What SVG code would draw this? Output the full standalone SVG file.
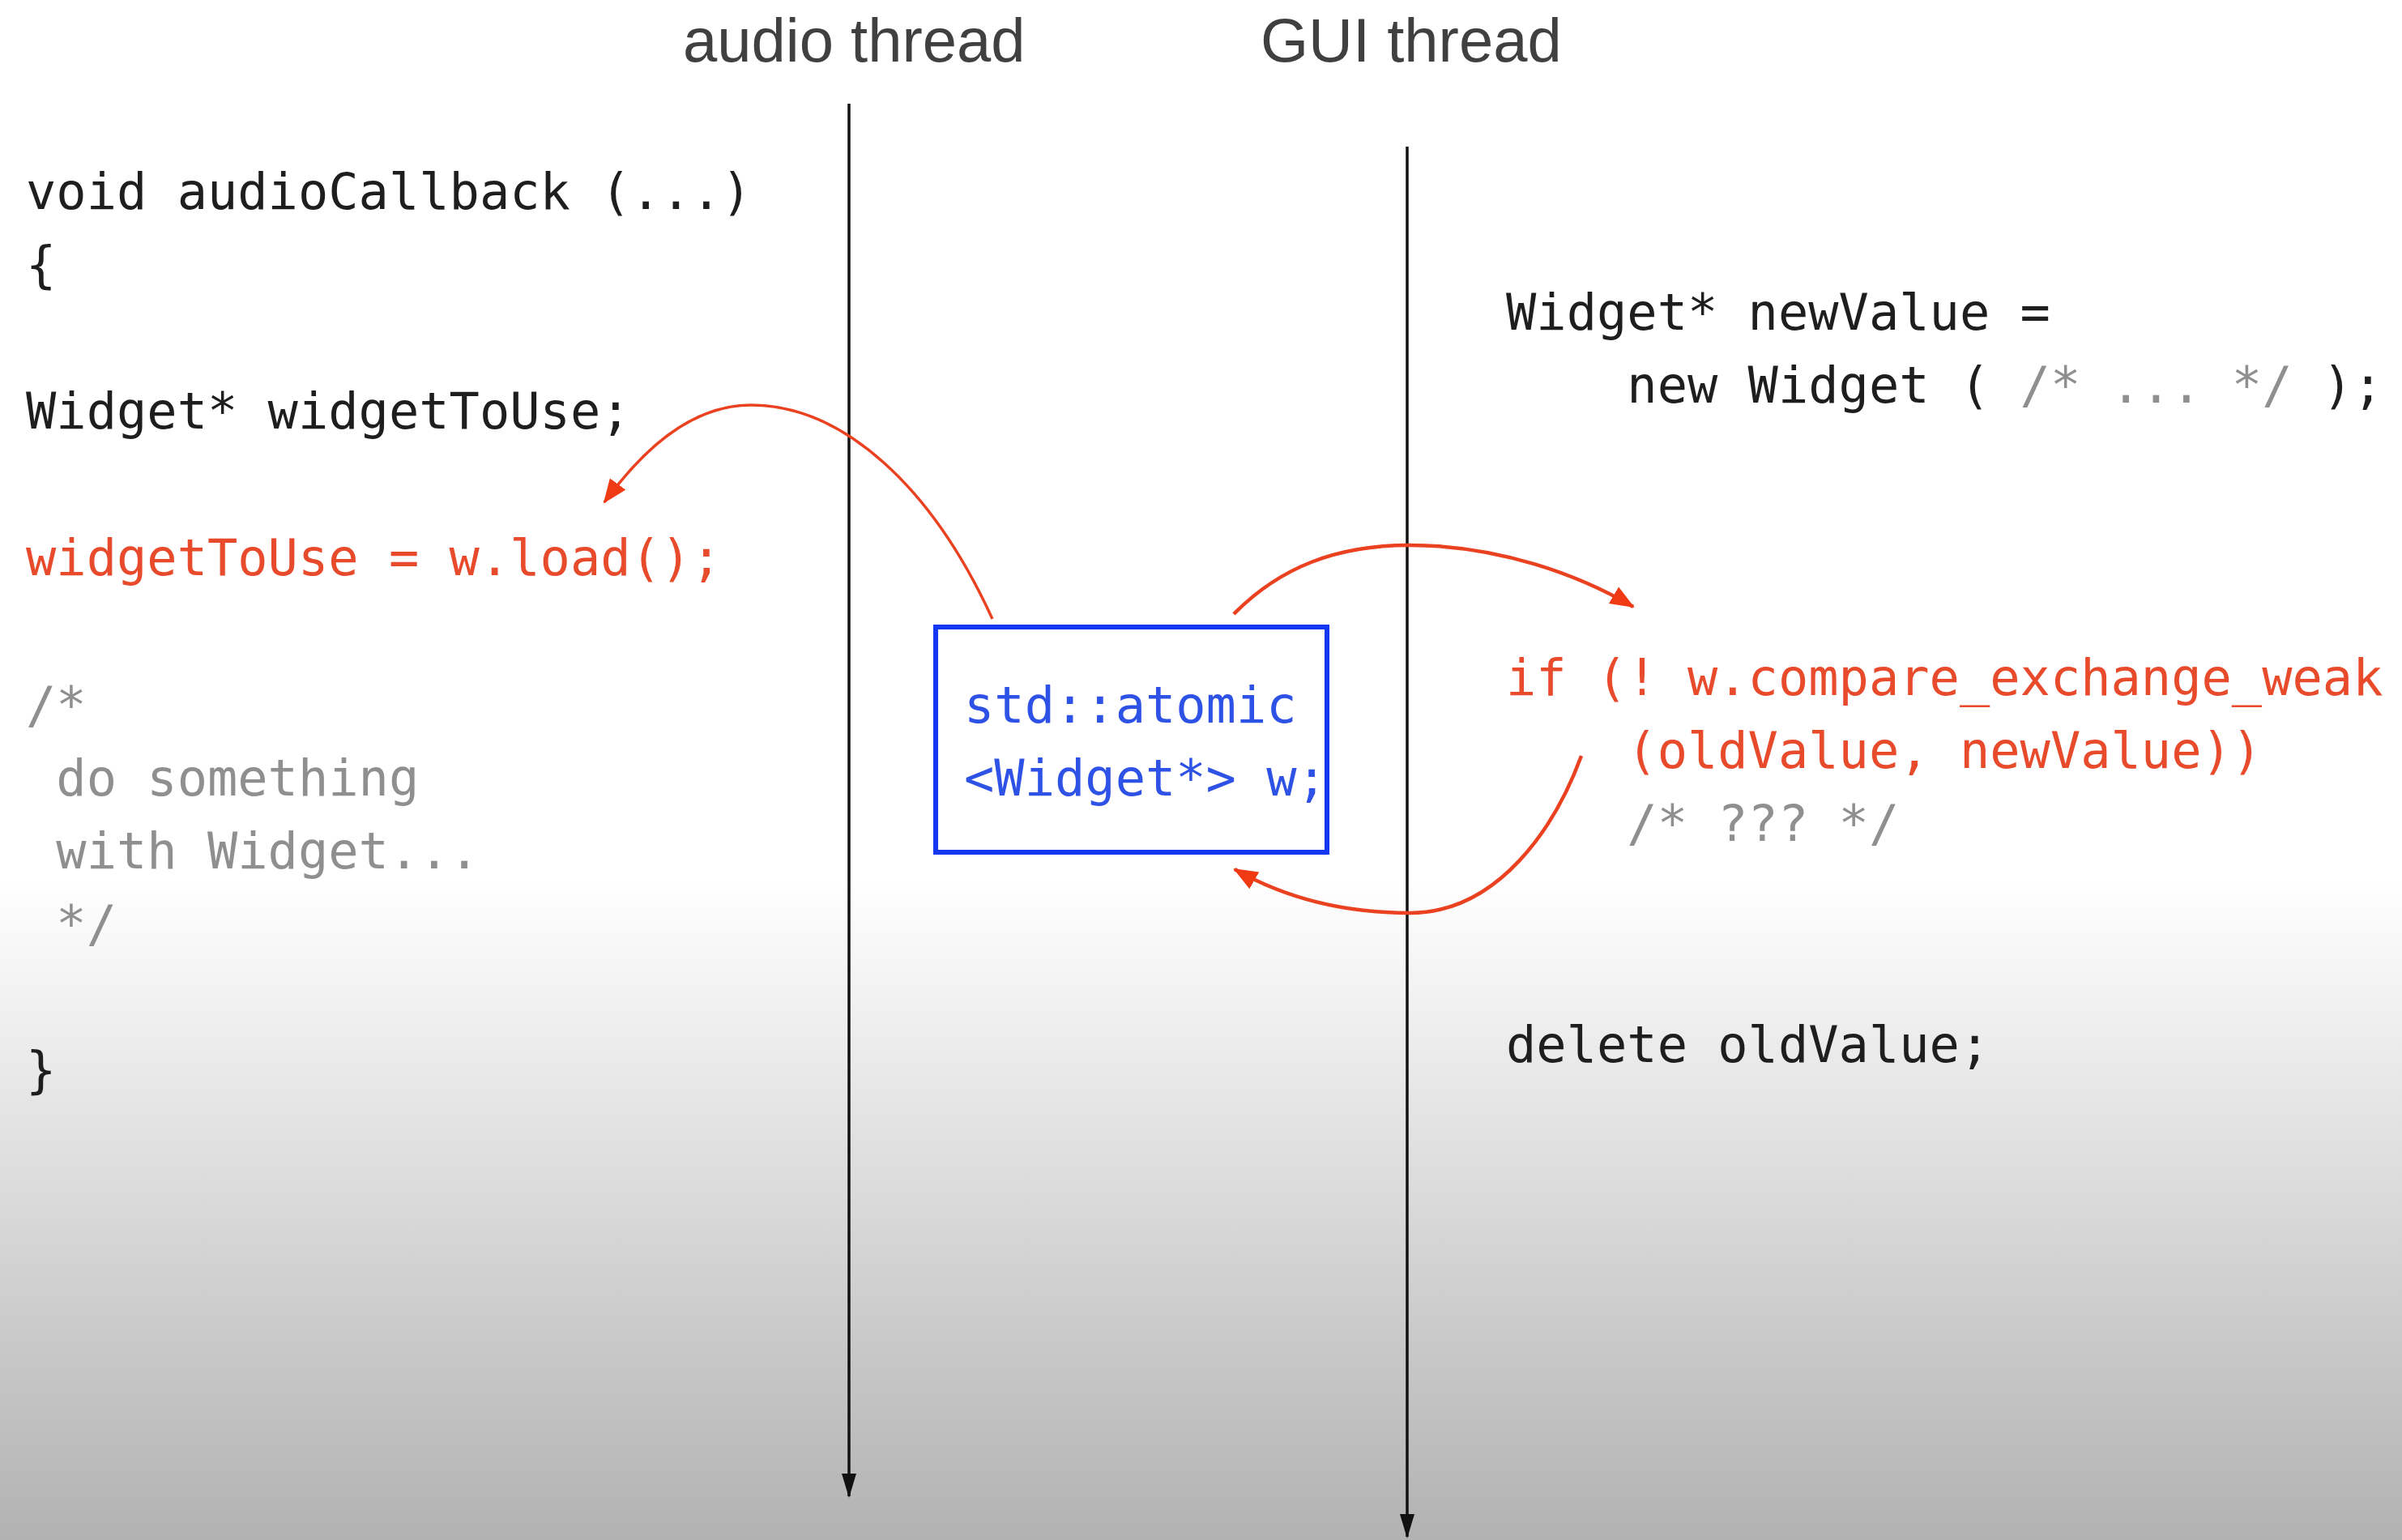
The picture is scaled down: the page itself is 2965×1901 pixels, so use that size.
<svg xmlns="http://www.w3.org/2000/svg" width="2965" height="1901" viewBox="0 0 2965 1901">
<style>
.title{font-family:"Liberation Sans",Arial,sans-serif;font-size:76px;fill:#404040}
.code{font-family:"DejaVu Sans Mono","Liberation Mono",monospace;font-size:62px;white-space:pre}
.blk{fill:#1e1e1e}
.red{fill:#e84a2c}
.gry{fill:#8f8f8f}
.blu{fill:#2f52e6}
.thread{stroke:#111;stroke-width:3.5;fill:none}
.arc{stroke:#ea4220;fill:none}
</style>
<defs>
<linearGradient id="bg" gradientUnits="userSpaceOnUse" x1="0" y1="1085" x2="0" y2="1901">
<stop offset="0" stop-color="#ffffff"/>
<stop offset="1" stop-color="#b2b2b2"/>
</linearGradient>
<marker id="blackArrow" viewBox="0 0 30 18" refX="28" refY="9" markerWidth="30" markerHeight="18" markerUnits="userSpaceOnUse" orient="auto">
<path d="M0,0 L30,9 L0,18 z" fill="#111"/>
</marker>
<marker id="redArrow" viewBox="0 0 30 24" refX="28" refY="12" markerWidth="30" markerHeight="24" markerUnits="userSpaceOnUse" orient="auto">
<path d="M0,0 L30,12 L0,24 z" fill="#f03a14"/>
</marker>
</defs>
<rect x="0" y="0" width="2965" height="1901" fill="url(#bg)"/>

<g id="title-audio"><text class="title" x="843" y="76">audio thread</text></g>
<g id="title-gui"><text class="title" x="1556" y="76">GUI thread</text></g>

<g id="connectors">
<line class="thread" x1="1048" y1="128" x2="1048" y2="1847" marker-end="url(#blackArrow)"/>
<line class="thread" x1="1737" y1="181" x2="1737" y2="1897" marker-end="url(#blackArrow)"/>
<path class="arc" stroke-width="3.5" d="M1225,764 C1150,600 1040,500 927,500 C850,500 790,560 746,620" marker-end="url(#redArrow)"/>
<path class="arc" stroke-width="4.5" d="M1523,758 C1580,700 1650,673 1740,673 C1850,673 1950,710 2016,749" marker-end="url(#redArrow)"/>
<path class="arc" stroke-width="4.5" d="M1952,933 C1920,1020 1850,1127 1740,1127 C1650,1127 1580,1105 1524,1073" marker-end="url(#redArrow)"/>
</g>

<g id="audio-code">
<text class="code blk" x="32" y="258">void audioCallback (...)</text>
<text class="code blk" x="32" y="348">{</text>
<text class="code blk" x="32" y="529">Widget* widgetToUse;</text>
<text class="code red" x="32" y="710">widgetToUse = w.load();</text>
<text class="code gry" x="32" y="892">/*</text>
<text class="code gry" x="32" y="982"> do something</text>
<text class="code gry" x="32" y="1072"> with Widget...</text>
<text class="code gry" x="32" y="1162"> */</text>
<text class="code blk" x="32" y="1342">}</text>
</g>

<g id="atomic-box">
<rect x="1155" y="774" width="483" height="278" fill="#ffffff" stroke="#1438f2" stroke-width="6"/>
<text class="code blu" x="1190" y="892">std::atomic</text>
<text class="code blu" x="1190" y="982">&lt;Widget*&gt; w;</text>
</g>

<g id="gui-code">
<text class="code blk" x="1859" y="407">Widget* newValue =</text>
<text class="code blk" x="1859" y="497">    new Widget ( <tspan class="gry">/* ... */</tspan> );</text>
<text class="code red" x="1859" y="858">if (! w.compare_exchange_weak</text>
<text class="code red" x="1859" y="948">    (oldValue, newValue))</text>
<text class="code gry" x="1859" y="1038">    /* ??? */</text>
<text class="code blk" x="1859" y="1311">delete oldValue;</text>
</g>
</svg>
